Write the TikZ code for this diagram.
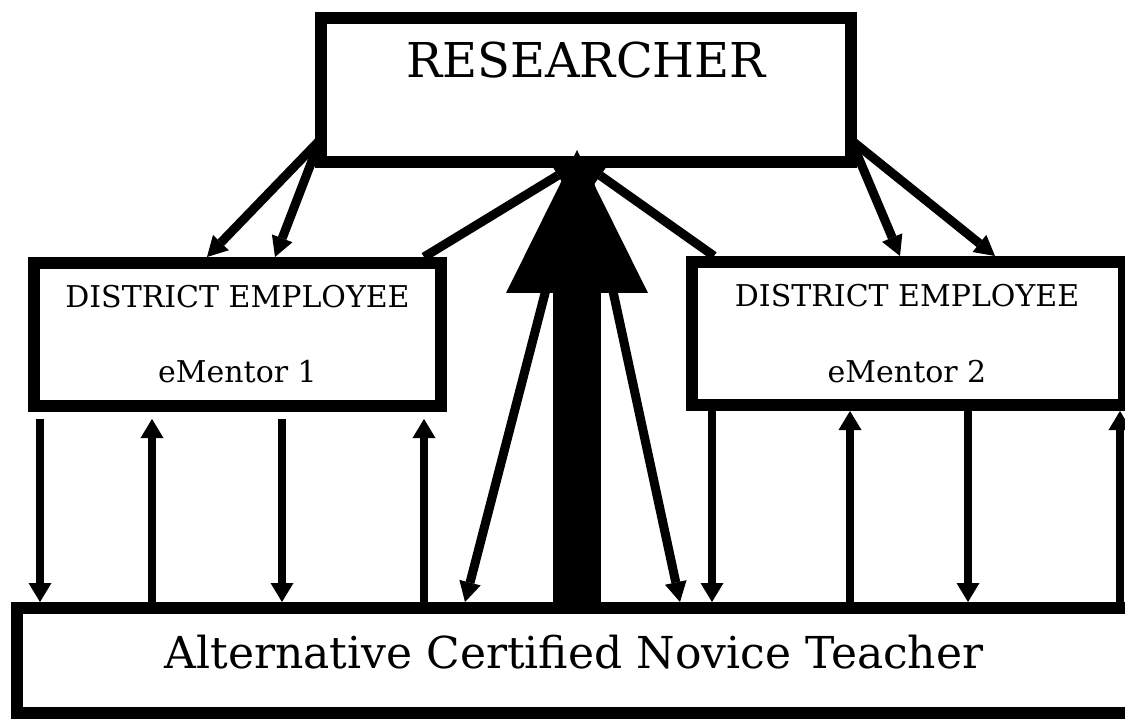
\documentclass[tikz,border=0pt]{standalone}
\usepackage{fontspec}
\setmainfont{DejaVu Serif}
\usetikzlibrary{arrows.meta,calc}

\tikzset{
  box/.style={draw, line width=12pt, fill=white, inner sep=0pt},
  title/.style={anchor=base, font=\fontsize{48}{58}\selectfont},
  role/.style={anchor=base, font=\fontsize{30}{36}\selectfont},
  link/.style={line width=9pt, -{Triangle[width=22pt,length=20pt,line width=0pt]}},
  feed/.style={line width=8pt, >={Triangle[width=23pt,length=19pt,line width=0pt]}},
}

\begin{document}
\begin{tikzpicture}[x=1pt,y=-1pt]
\useasboundingbox (0,0) rectangle (1125,719);

% the four boxes
\node[box, minimum width=530pt, minimum height=144pt] (res) at (586,90) {};
\node[box, minimum width=407pt, minimum height=143pt] (de1) at (237.5,334.5) {};
\node[box, minimum width=432pt, minimum height=143pt] (de2) at (908,333.5) {};
\node[box, minimum width=1114pt, minimum height=105pt] (nt) at (574,660.5) {};

\node[title] (restitle) at ($(res.north)+(0,66)$) {RESEARCHER};
\node[role] (de1title) at ($(de1.north)+(0,51)$) {DISTRICT EMPLOYEE};
\node[role] (de1name) at ($(de1.north)+(0,126)$) {eMentor 1};
\node[role] (de2title) at ($(de2.north)+(-1,51)$) {DISTRICT EMPLOYEE};
\node[role] (de2name) at ($(de2.north)+(-1,126)$) {eMentor 2};
\node[title, font=\fontsize{44}{52}\selectfont] (nttitle) at ($(nt.north)+(0,66)$) {Alternative Certified Novice Teacher};

% researcher down to the eMentors
\coordinate (resl) at ($(res.south west)+(5,-28)$);
\coordinate (resr) at ($(res.south east)+(-6,-28)$);
\draw[link] (resl) -- ($(de1.north west)+(179,0)$);
\draw[link] (resl) -- ($(de1.north west)+(247,0)$);
\draw[link] (resr) -- ($(de2.north west)+(214,0)$);
\draw[link] (resr) -- ($(de2.north west)+(309,0)$);

% eMentors back up to the researcher (heads end under the big arrow)
\draw[link] ($(de1.north east)+(-23,0)$) -- ($(res.south)+(-11,-3)$);
\draw[link] ($(de2.north west)+(28,0)$) -- ($(res.south)+(-2,-4)$);

% researcher straight to the teacher
\draw[link] ($(res.south)+(-8,-2)$) -- ($(nt.north west)+(454,0)$);
\draw[link] ($(res.south)+(0,-2)$) -- ($(nt.north west)+(669,0)$);

% eMentor <-> teacher
\foreach \dx/\dir in {12/->,124/<-,254/->,396/<-}
  \draw[feed,\dir] ($(de1.south west)+(\dx,7)$) -- ($(de1.south west |- nt.north)+(\dx,0)$);
\foreach \dx/\dir in {26/->,164/<-,282/->,434/<-}
  \draw[feed,\dir] ($(de2.south west)+(\dx,0)$) -- ($(de2.south west |- nt.north)+(\dx,0)$);

% the big arrow from the teacher to the researcher
\draw[line width=48pt, -{Triangle[width=142pt,length=143pt,line width=0pt]}]
  ($(nt.north west)+(566,0)$) -- ($(res.south)+(-9,-18)$);
\end{tikzpicture}
\end{document}
